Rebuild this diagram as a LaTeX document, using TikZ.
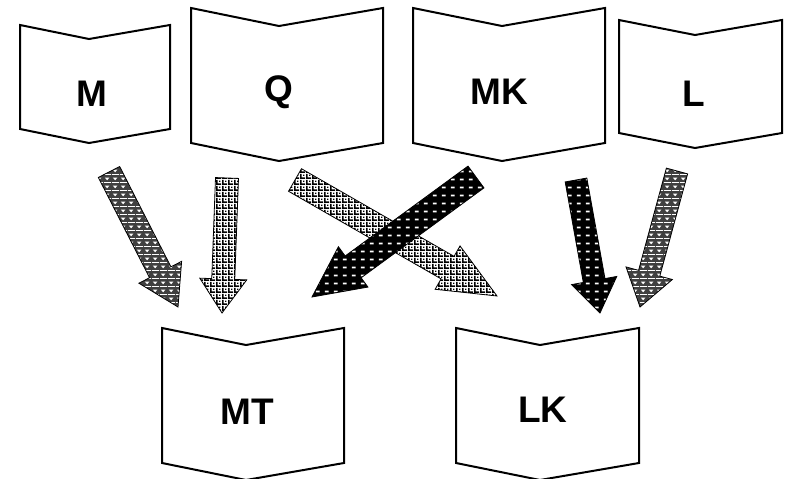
\documentclass[tikz,border=0pt]{standalone}
\usepackage{fontspec}
\setmainfont{Liberation Sans}
\usetikzlibrary{calc,patterns}
\pgfdeclarepatternformonly{wdash}{\pgfpointorigin}{\pgfpoint{9pt}{8pt}}{\pgfpoint{9pt}{8pt}}{%
  \pgfpathrectangle{\pgfpoint{1pt}{3pt}}{\pgfpoint{4pt}{2pt}}\pgfusepath{fill}}
\pgfdeclarepatternformonly{lattice}{\pgfpointorigin}{\pgfpoint{6pt}{6pt}}{\pgfpoint{6pt}{6pt}}{%
  \pgfpathrectangle{\pgfpoint{0pt}{0pt}}{\pgfpoint{6pt}{2pt}}
  \pgfpathrectangle{\pgfpoint{0pt}{0pt}}{\pgfpoint{2pt}{6pt}}
  \pgfpathrectangle{\pgfpoint{3.5pt}{3.5pt}}{\pgfpoint{1.5pt}{1.5pt}}\pgfusepath{fill}}
\pgfdeclarepatternformonly{wtri}{\pgfpointorigin}{\pgfpoint{8pt}{8pt}}{\pgfpoint{8pt}{8pt}}{%
  \pgfpathmoveto{\pgfpoint{1pt}{6pt}}\pgfpathlineto{\pgfpoint{6pt}{6pt}}\pgfpathlineto{\pgfpoint{3.5pt}{3pt}}\pgfpathclose
  \pgfpathrectangle{\pgfpoint{0pt}{0pt}}{\pgfpoint{8pt}{1pt}}\pgfusepath{fill}}
\newcommand\chevbox[6]{% #1 L, #2 R, #3 top, #4 notch x, #5 depth, #6 bottom
  \draw[boxline] (#1,#3) -- (#4,#3+#5) -- (#2,#3) -- (#2,#6) -- (#4,#6+#5) -- (#1,#6) -- cycle;}
\newcommand\blockarr[6]{% #1 style, #2 tail, #3 tip, #4 shaft half width, #5 head half width, #6 head length
  \coordinate (hb) at ($(#3)!#6!(#2)$);
  \draw[arrline,#1] ($(#2)!#4!90:(#3)$) -- ($(hb)!#4!90:(#3)$) -- ($(hb)!#5!90:(#3)$) -- (#3)
    -- ($(hb)!#5!-90:(#3)$) -- ($(hb)!#4!-90:(#3)$) -- ($(#2)!#4!-90:(#3)$) -- cycle;}
\begin{document}
\begin{tikzpicture}[x=1pt,y=-1pt,
  boxline/.style={line width=2pt,line join=miter,draw=black,fill=white},
  lbl/.style={font=\fontsize{37}{40}\selectfont\bfseries,inner sep=0pt},
  arrline/.style={draw=black,line width=0.8pt,line join=miter},
  darkpat/.style={preaction={fill=black!75},pattern=wtri,pattern color=white},
  lightpat/.style={preaction={fill=white},pattern=lattice,pattern color=black},
  blackpat/.style={preaction={fill=black},pattern=wdash,pattern color=white}]
\useasboundingbox (0,0) rectangle (785,479);
% boxes
\chevbox{20}{170}{25}{89}{14}{129}
\chevbox{191}{383}{8}{279}{18}{143}
\chevbox{413}{605}{8}{502}{18}{143}
\chevbox{619}{782}{20}{695}{15}{133}
\chevbox{162}{344}{328}{246}{17}{463}
\chevbox{456}{639}{328}{540}{17}{463}
\node[lbl] (m) at (92,94) {M};
\node[lbl] (q) at (279,92) {Q};
\node[lbl] (mk) at (499,92) {MK};
\node[lbl] (l) at (694,94) {L};
\node[lbl] (mt) at (247,412) {MT};
\node[lbl] (lk) at (543,410) {LK};
% arrow coordinates
\coordinate (aT) at (109,172); \coordinate (aP) at (178,307);
\coordinate (bT) at (227,178); \coordinate (bP) at (222,313);
\coordinate (cT) at (295,180); \coordinate (cP) at (497,296);
\coordinate (dT) at (476,177); \coordinate (dP) at (312,297);
\coordinate (eT) at (576,180); \coordinate (eP) at (600,313);
\coordinate (fT) at (677,171); \coordinate (fP) at (640,307);
\blockarr{darkpat}{aT}{aP}{12pt}{24pt}{39pt}
\blockarr{lightpat}{bT}{bP}{11.5pt}{23.5pt}{34pt}
\blockarr{lightpat}{cT}{cP}{13pt}{25pt}{57pt}
\blockarr{blackpat}{dT}{dP}{13.5pt}{25pt}{51pt}
\blockarr{blackpat}{eT}{eP}{11pt}{23pt}{33pt}
\blockarr{darkpat}{fT}{fP}{11pt}{24pt}{35pt}
\end{tikzpicture}
\end{document}
